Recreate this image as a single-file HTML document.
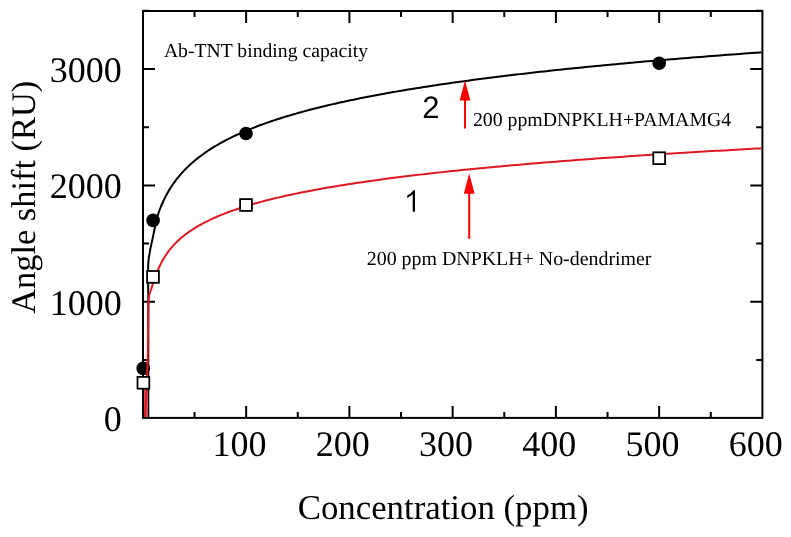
<!DOCTYPE html>
<html><head><meta charset="utf-8"><style>
html,body{margin:0;padding:0;background:#fff;}
body{width:791px;height:537px;overflow:hidden;font-family:"Liberation Serif",serif;}
svg{display:block;will-change:transform;} text{text-rendering:geometricPrecision;}
</style></head><body>
<svg width="791" height="537" viewBox="0 0 791 537">
<rect width="791" height="537" fill="#fff"/>
<rect x="143" y="11" width="619.4" height="406.9" fill="none" stroke="#000" stroke-width="2"/>
<path d="M246.15,417.9 V405.9 M246.15,11 V23 M349.40,417.9 V405.9 M349.40,11 V23 M452.65,417.9 V405.9 M452.65,11 V23 M555.90,417.9 V405.9 M555.90,11 V23 M659.15,417.9 V405.9 M659.15,11 V23 M194.53,417.9 V411.9 M194.53,11 V17 M297.77,417.9 V411.9 M297.77,11 V17 M401.02,417.9 V411.9 M401.02,11 V17 M504.27,417.9 V411.9 M504.27,11 V17 M607.52,417.9 V411.9 M607.52,11 V17 M710.77,417.9 V411.9 M710.77,11 V17 M143,301.80 H155 M762.4,301.80 H750.2 M143,185.40 H155 M762.4,185.40 H750.2 M143,69.00 H155 M762.4,69.00 H750.2 M143,360.00 H149 M762.4,360.00 H756.2 M143,243.60 H149 M762.4,243.60 H756.2 M143,127.20 H149 M762.4,127.20 H756.2 M143,10.80 H149 M762.4,10.80 H756.2" stroke="#000" stroke-width="2" fill="none"/>
<path d="M148.30,417.00 L148.30,300.00 L148.10,270.00 L148.20,265.00 L148.70,258.70 L150.40,248.60 L152.60,238.60 L154.70,228.50 L156.60,220.50 L158.50,213.07 L159.25,210.97 L160.00,208.98 L160.75,207.07 L161.50,205.25 L162.25,203.50 L163.00,201.82 L163.75,200.21 L164.50,198.66 L165.25,197.16 L166.00,195.71 L166.75,194.32 L167.50,192.96 L168.25,191.65 L169.00,190.38 L169.75,189.14 L170.50,187.94 L171.25,186.78 L172.00,185.64 L172.75,184.53 L173.50,183.46 L174.25,182.40 L175.00,181.38 L175.75,180.38 L176.50,179.40 L177.25,178.44 L178.00,177.50 L178.75,176.59 L179.50,175.69 L180.25,174.81 L181.00,173.95 L181.75,173.11 L182.50,172.28 L183.25,171.46 L184.00,170.67 L184.75,169.89 L185.50,169.12 L186.25,168.36 L187.00,167.62 L187.75,166.89 L188.50,166.17 L189.25,165.47 L190.00,164.77 L190.75,164.09 L191.50,163.41 L192.25,162.75 L193.00,162.10 L193.75,161.46 L194.50,160.82 L195.25,160.20 L196.00,159.58 L196.75,158.98 L197.50,158.38 L198.25,157.79 L199.00,157.21 L199.75,156.63 L200.00,156.44 L202.00,154.95 L204.00,153.51 L206.00,152.12 L208.00,150.77 L210.00,149.46 L212.00,148.18 L214.00,146.95 L216.00,145.75 L218.00,144.58 L220.00,143.44 L222.00,142.33 L224.00,141.25 L226.00,140.19 L228.00,139.16 L230.00,138.15 L232.00,137.17 L234.00,136.20 L236.00,135.26 L238.00,134.34 L240.00,133.43 L242.00,132.55 L244.00,131.68 L246.00,130.83 L248.00,129.99 L250.00,129.17 L252.00,128.37 L254.00,127.58 L256.00,126.80 L258.00,126.04 L260.00,125.29 L262.00,124.56 L264.00,123.83 L266.00,123.12 L268.00,122.42 L270.00,121.73 L272.00,121.05 L274.00,120.38 L276.00,119.72 L278.00,119.07 L280.00,118.43 L282.00,117.80 L284.00,117.17 L286.00,116.56 L288.00,115.95 L290.00,115.36 L292.00,114.77 L294.00,114.19 L296.00,113.61 L298.00,113.05 L300.00,112.49 L304.00,111.39 L308.00,110.32 L312.00,109.27 L316.00,108.25 L320.00,107.25 L324.00,106.28 L328.00,105.32 L332.00,104.39 L336.00,103.47 L340.00,102.58 L344.00,101.70 L348.00,100.84 L352.00,99.99 L356.00,99.16 L360.00,98.35 L364.00,97.55 L368.00,96.76 L372.00,95.99 L376.00,95.23 L380.00,94.49 L384.00,93.75 L388.00,93.03 L392.00,92.32 L396.00,91.63 L400.00,90.94 L404.00,90.26 L408.00,89.59 L412.00,88.94 L416.00,88.29 L420.00,87.65 L424.00,87.02 L428.00,86.40 L432.00,85.79 L436.00,85.19 L440.00,84.59 L444.00,84.01 L448.00,83.43 L452.00,82.86 L456.00,82.29 L460.00,81.73 L464.00,81.18 L468.00,80.64 L472.00,80.10 L476.00,79.57 L480.00,79.05 L484.00,78.53 L488.00,78.02 L492.00,77.51 L496.00,77.01 L500.00,76.52 L504.00,76.03 L508.00,75.54 L512.00,75.06 L516.00,74.59 L520.00,74.12 L524.00,73.66 L528.00,73.20 L532.00,72.74 L536.00,72.29 L540.00,71.85 L544.00,71.41 L548.00,70.97 L552.00,70.54 L556.00,70.11 L560.00,69.69 L564.00,69.27 L568.00,68.85 L572.00,68.44 L576.00,68.03 L580.00,67.63 L584.00,67.23 L588.00,66.83 L592.00,66.44 L596.00,66.05 L600.00,65.66 L604.00,65.28 L608.00,64.90 L612.00,64.52 L616.00,64.15 L620.00,63.77 L624.00,63.41 L628.00,63.04 L632.00,62.68 L636.00,62.32 L640.00,61.97 L644.00,61.61 L648.00,61.26 L652.00,60.92 L656.00,60.57 L660.00,60.23 L664.00,59.89 L668.00,59.56 L672.00,59.22 L676.00,58.89 L680.00,58.56 L684.00,58.23 L688.00,57.91 L692.00,57.59 L696.00,57.27 L700.00,56.95 L704.00,56.64 L708.00,56.32 L712.00,56.01 L716.00,55.71 L720.00,55.40 L724.00,55.10 L728.00,54.79 L732.00,54.49 L736.00,54.20 L740.00,53.90 L744.00,53.61 L748.00,53.31 L752.00,53.02 L756.00,52.74 L760.00,52.45 L761.40,52.35" stroke="#000" stroke-width="2" fill="none" stroke-linejoin="round"/>
<circle cx="143.2" cy="368.4" r="6.8" fill="#000"/>
<circle cx="153.1" cy="220.4" r="6.8" fill="#000"/>
<circle cx="246.0" cy="133.5" r="6.8" fill="#000"/>
<circle cx="659.2" cy="63.2" r="6.8" fill="#000"/>
<path d="M144.0,417 L144.0,389 L148.0,389 L148.0,417 Z" fill="#d0505a"/>
<path d="M144.90,417.00 L146.60,389.00 L147.70,360.00 L148.40,301.70 L149.20,295.00 L151.00,290.00 L152.60,284.80 L155.50,276.00 L157.50,271.00 L159.00,267.50 L160.60,264.21 L161.35,262.72 L162.10,261.30 L162.85,259.94 L163.60,258.65 L164.35,257.40 L165.10,256.21 L165.85,255.06 L166.60,253.95 L167.35,252.89 L168.10,251.86 L168.85,250.86 L169.60,249.89 L170.35,248.96 L171.10,248.05 L171.85,247.17 L172.60,246.32 L173.35,245.48 L174.10,244.67 L174.85,243.89 L175.60,243.12 L176.35,242.37 L177.10,241.64 L177.85,240.92 L178.60,240.22 L179.35,239.54 L180.10,238.87 L180.85,238.22 L181.60,237.58 L182.35,236.95 L183.10,236.34 L183.85,235.74 L184.60,235.15 L185.35,234.57 L186.10,234.00 L186.85,233.44 L187.60,232.89 L188.35,232.35 L189.10,231.82 L189.85,231.30 L190.60,230.79 L191.35,230.29 L192.10,229.79 L192.85,229.31 L193.60,228.83 L194.35,228.35 L195.10,227.89 L195.85,227.43 L196.60,226.98 L197.35,226.53 L198.10,226.09 L198.85,225.66 L199.60,225.23 L200.00,225.01 L202.00,223.91 L204.00,222.84 L206.00,221.81 L208.00,220.82 L210.00,219.85 L212.00,218.92 L214.00,218.01 L216.00,217.12 L218.00,216.26 L220.00,215.43 L222.00,214.61 L224.00,213.82 L226.00,213.05 L228.00,212.29 L230.00,211.55 L232.00,210.83 L234.00,210.13 L236.00,209.44 L238.00,208.76 L240.00,208.10 L242.00,207.45 L244.00,206.82 L246.00,206.20 L248.00,205.59 L250.00,204.99 L252.00,204.40 L254.00,203.82 L256.00,203.26 L258.00,202.70 L260.00,202.15 L262.00,201.62 L264.00,201.09 L266.00,200.57 L268.00,200.06 L270.00,199.55 L272.00,199.06 L274.00,198.57 L276.00,198.09 L278.00,197.61 L280.00,197.14 L282.00,196.68 L284.00,196.23 L286.00,195.78 L288.00,195.34 L290.00,194.91 L292.00,194.48 L294.00,194.05 L296.00,193.63 L298.00,193.22 L300.00,192.81 L304.00,192.01 L308.00,191.23 L312.00,190.47 L316.00,189.72 L320.00,188.99 L324.00,188.28 L328.00,187.58 L332.00,186.90 L336.00,186.23 L340.00,185.57 L344.00,184.93 L348.00,184.30 L352.00,183.68 L356.00,183.07 L360.00,182.48 L364.00,181.89 L368.00,181.32 L372.00,180.75 L376.00,180.19 L380.00,179.65 L384.00,179.11 L388.00,178.58 L392.00,178.06 L396.00,177.55 L400.00,177.04 L404.00,176.54 L408.00,176.05 L412.00,175.57 L416.00,175.10 L420.00,174.63 L424.00,174.16 L428.00,173.71 L432.00,173.26 L436.00,172.81 L440.00,172.37 L444.00,171.94 L448.00,171.51 L452.00,171.09 L456.00,170.68 L460.00,170.26 L464.00,169.86 L468.00,169.46 L472.00,169.06 L476.00,168.67 L480.00,168.28 L484.00,167.90 L488.00,167.52 L492.00,167.14 L496.00,166.77 L500.00,166.40 L504.00,166.04 L508.00,165.68 L512.00,165.33 L516.00,164.98 L520.00,164.63 L524.00,164.28 L528.00,163.94 L532.00,163.61 L536.00,163.27 L540.00,162.94 L544.00,162.61 L548.00,162.29 L552.00,161.97 L556.00,161.65 L560.00,161.33 L564.00,161.02 L568.00,160.71 L572.00,160.40 L576.00,160.10 L580.00,159.80 L584.00,159.50 L588.00,159.20 L592.00,158.91 L596.00,158.62 L600.00,158.33 L604.00,158.04 L608.00,157.76 L612.00,157.48 L616.00,157.20 L620.00,156.92 L624.00,156.65 L628.00,156.37 L632.00,156.10 L636.00,155.83 L640.00,155.57 L644.00,155.30 L648.00,155.04 L652.00,154.78 L656.00,154.52 L660.00,154.27 L664.00,154.01 L668.00,153.76 L672.00,153.51 L676.00,153.26 L680.00,153.01 L684.00,152.77 L688.00,152.52 L692.00,152.28 L696.00,152.04 L700.00,151.80 L704.00,151.56 L708.00,151.33 L712.00,151.09 L716.00,150.86 L720.00,150.63 L724.00,150.40 L728.00,150.17 L732.00,149.95 L736.00,149.72 L740.00,149.50 L744.00,149.28 L748.00,149.06 L752.00,148.84 L756.00,148.62 L760.00,148.40 L761.40,148.33" stroke="#dc1a22" stroke-width="2" fill="none" stroke-linejoin="round"/>
<rect x="137.50" y="376.90" width="11.8" height="11.8" fill="#fff" stroke="#000" stroke-width="1.8"/>
<rect x="147.10" y="271.00" width="11.8" height="11.8" fill="#fff" stroke="#000" stroke-width="1.8"/>
<rect x="240.10" y="199.10" width="11.8" height="11.8" fill="#fff" stroke="#000" stroke-width="1.8"/>
<rect x="653.30" y="152.30" width="11.8" height="11.8" fill="#fff" stroke="#000" stroke-width="1.8"/>
<path d="M465.0,128.6 V99.5" stroke="#f00" stroke-width="2"/><path d="M465.0,80.6 L459.6,100.5 L470.4,100.5 Z" fill="#f00"/>
<path d="M469.2,238.8 V192.8" stroke="#f00" stroke-width="2"/><path d="M469.2,173.6 L463.8,193.8 L474.59999999999997,193.8 Z" fill="#f00"/>
<text x="121.8" y="314.50" font-family="Liberation Serif" font-size="36" text-anchor="end">1000</text>
<text x="121.8" y="198.10" font-family="Liberation Serif" font-size="36" text-anchor="end">2000</text>
<text x="121.8" y="81.70" font-family="Liberation Serif" font-size="36" text-anchor="end">3000</text>
<text x="121.8" y="430.8" font-family="Liberation Serif" font-size="36" text-anchor="end">0</text>
<text x="239.55" y="456.3" font-family="Liberation Serif" font-size="36" text-anchor="middle">100</text>
<text x="342.80" y="456.3" font-family="Liberation Serif" font-size="36" text-anchor="middle">200</text>
<text x="446.05" y="456.3" font-family="Liberation Serif" font-size="36" text-anchor="middle">300</text>
<text x="549.30" y="456.3" font-family="Liberation Serif" font-size="36" text-anchor="middle">400</text>
<text x="652.55" y="456.3" font-family="Liberation Serif" font-size="36" text-anchor="middle">500</text>
<text x="755.80" y="456.3" font-family="Liberation Serif" font-size="36" text-anchor="middle">600</text>
<text x="297.7" y="518.9" font-family="Liberation Serif" font-size="34.8">Concentration (ppm)</text>
<text transform="translate(34.7,313.8) rotate(-90)" font-family="Liberation Serif" font-size="34.4">Angle shift (RU)</text>
<text x="163.9" y="56.6" font-family="Liberation Serif" font-size="19.7">Ab-TNT binding capacity</text>
<text x="472.9" y="125.8" font-family="Liberation Serif" font-size="19.8">200 ppmDNPKLH+PAMAMG4</text>
<text x="366.8" y="264.7" font-family="Liberation Serif" font-size="19.9">200 ppm DNPKLH+ No-dendrimer</text>
<text x="422.3" y="117.6" font-family="Liberation Sans" font-size="31">2</text>
<path d="M415.0,211.8 L412.7,211.8 L412.7,194.3 C411.3,195.6 409.4,196.9 407.2,197.9 L407.2,195.5 C409.8,194.2 411.9,192.3 413.2,190.2 L415.0,190.2 Z" fill="#000"/>
</svg>
</body></html>
